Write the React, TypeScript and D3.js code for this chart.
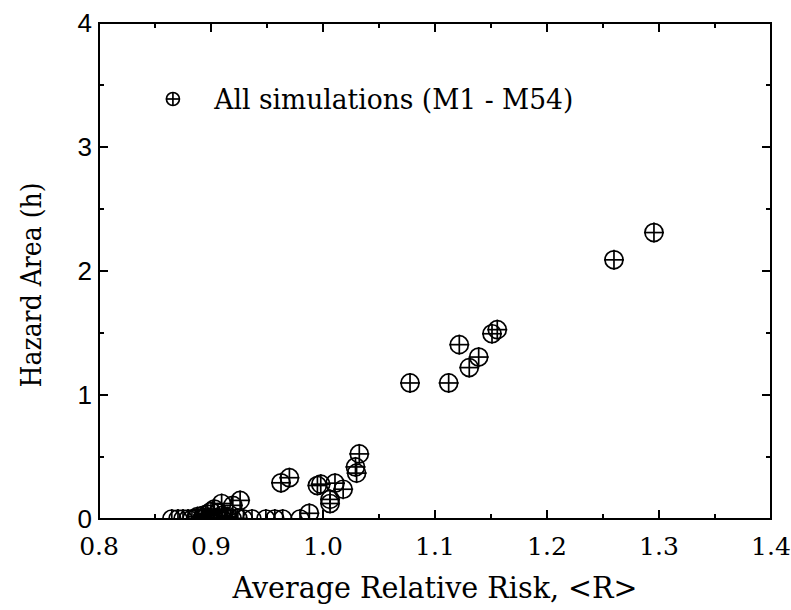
import React from 'react';
import * as d3 from 'd3';

// average relative risk <R> for each simulation
const riskValues = [
  1.2955, 1.2598,
  1.0777, 1.1122, 1.1217, 1.1306, 1.139, 1.1509, 1.1556,
  1.0324, 1.029, 1.030, 0.9625, 0.970, 0.998, 0.995, 1.0107, 1.018, 1.0063, 1.0063,
  0.926, 0.9195, 0.9095, 0.9878,
  0.865, 0.8705, 0.875, 0.8795, 0.883, 0.8866, 0.892, 0.8946, 0.897, 0.900,
  0.9027, 0.906, 0.91, 0.914, 0.919, 0.924, 0.929, 0.9366, 0.949, 0.957, 0.964, 0.9795,
  0.897, 0.900, 0.903, 0.906, 0.893, 0.888, 0.91, 0.915,
];

// hazard area h for each simulation
const hazardValues = [
  2.31, 2.09,
  1.097, 1.097, 1.406, 1.221, 1.306, 1.494, 1.527,
  0.525, 0.42, 0.37, 0.292, 0.333, 0.281, 0.27, 0.289, 0.24, 0.158, 0.125,
  0.15, 0.11, 0.125, 0.046,
  0.0, 0.0, 0.0, 0.0, 0.0, 0.005, 0.0, 0.01, 0.0, 0.01,
  0.0, 0.005, 0.0, 0.01, 0.0, 0.005, 0.0, 0.0, 0.0, 0.0, 0.0, 0.0,
  0.04, 0.06, 0.08, 0.05, 0.03, 0.02, 0.03, 0.02,
];

const xTicks = [0.8, 0.9, 1.0, 1.1, 1.2, 1.3, 1.4];
const xMinorTicks = [0.85, 0.95, 1.05, 1.15, 1.25, 1.35];
const yTicks = [0, 1, 2, 3, 4];
const yMinorTicks = [0.5, 1.5, 2.5, 3.5];

const legendLabel = 'All simulations (M1 - M54)';
const xTitle = 'Average Relative Risk, <R>';
const yTitle = 'Hazard Area (h)';

const serif = '"DejaVu Serif", "Liberation Serif", serif';
const sans = '"Liberation Sans", Arial, sans-serif';

const Marker = ({ cx, cy, r, arm }: { cx: number; cy: number; r: number; arm: number }) => (
  <g stroke="#000" strokeWidth={1.7} fill="none">
    <circle cx={cx} cy={cy} r={r} />
    <line x1={cx - arm} x2={cx + arm} y1={cy} y2={cy} />
    <line x1={cx} x2={cx} y1={cy - arm} y2={cy + arm} />
  </g>
);

const App = () => {
  const width = 791;
  const height = 610;
  const margin = { top: 23, right: 20, bottom: 91, left: 99 };
  const innerW = width - margin.left - margin.right;
  const innerH = height - margin.top - margin.bottom;

  const x = d3.scaleLinear().domain([0.8, 1.4]).range([0, innerW]);
  const y = d3.scaleLinear().domain([0, 4]).range([innerH, 0]);

  const points = riskValues.map((r, i) => ({ r, h: hazardValues[i] }));
  const major = 9;
  const minor = 5;

  return (
    <svg
      width={width}
      height={height}
      style={{ position: 'absolute', left: 0, top: 0, background: '#fff' }}
    >
      <defs>
        <clipPath id="plot-clip">
          <rect x={0} y={0} width={innerW} height={innerH} />
        </clipPath>
      </defs>
      <g transform={`translate(${margin.left},${margin.top})`}>
        {/* markers */}
        <g clipPath="url(#plot-clip)">
          {points.map((d, i) => (
            <Marker key={i} cx={x(d.r)} cy={y(d.h)} r={9} arm={10} />
          ))}
        </g>

        {/* frame */}
        <rect x={0} y={0} width={innerW} height={innerH} fill="none" stroke="#000" strokeWidth={2} />

        {/* ticks on all four sides, pointing in */}
        <g stroke="#000" strokeWidth={2}>
          {xTicks.map((t) => (
            <g key={t}>
              <line x1={x(t)} x2={x(t)} y1={innerH} y2={innerH - major} />
              <line x1={x(t)} x2={x(t)} y1={0} y2={major} />
            </g>
          ))}
          {xMinorTicks.map((t) => (
            <g key={t}>
              <line x1={x(t)} x2={x(t)} y1={innerH} y2={innerH - minor} />
              <line x1={x(t)} x2={x(t)} y1={0} y2={minor} />
            </g>
          ))}
          {yTicks.map((t) => (
            <g key={t}>
              <line x1={0} x2={major} y1={y(t)} y2={y(t)} />
              <line x1={innerW} x2={innerW - major} y1={y(t)} y2={y(t)} />
            </g>
          ))}
          {yMinorTicks.map((t) => (
            <g key={t}>
              <line x1={0} x2={minor} y1={y(t)} y2={y(t)} />
              <line x1={innerW} x2={innerW - minor} y1={y(t)} y2={y(t)} />
            </g>
          ))}
        </g>

        {/* tick labels */}
        {xTicks.map((t) => (
          <text
            key={t}
            x={x(t)}
            y={innerH + 36}
            textAnchor="middle"
            fontFamily={serif}
            fontSize={25}
          >
            {t.toFixed(1)}
          </text>
        ))}
        {yTicks.map((t) => (
          <text
            key={t}
            x={-7}
            y={y(t)}
            dy="0.35em"
            textAnchor="end"
            fontFamily={sans}
            fontSize={26}
          >
            {t}
          </text>
        ))}

        {/* legend */}
        <Marker cx={x(0.866)} cy={76} r={6.5} arm={7} />
        <text
          x={x(0.903)}
          y={86}
          fontFamily={serif}
          fontSize={28}
          textLength={359}
          lengthAdjust="spacingAndGlyphs"
        >
          {legendLabel}
        </text>

        {/* axis titles */}
        <text
          x={innerW / 2}
          y={innerH + 79}
          textAnchor="middle"
          fontFamily={serif}
          fontSize={29}
          textLength={405}
          lengthAdjust="spacingAndGlyphs"
        >
          {xTitle}
        </text>
        <text
          transform={`translate(${-58},${innerH / 2 + 14}) rotate(-90)`}
          textAnchor="middle"
          fontFamily={serif}
          fontSize={28}
          textLength={205}
          lengthAdjust="spacingAndGlyphs"
        >
          {yTitle}
        </text>
      </g>
    </svg>
  );
};

export default App;
